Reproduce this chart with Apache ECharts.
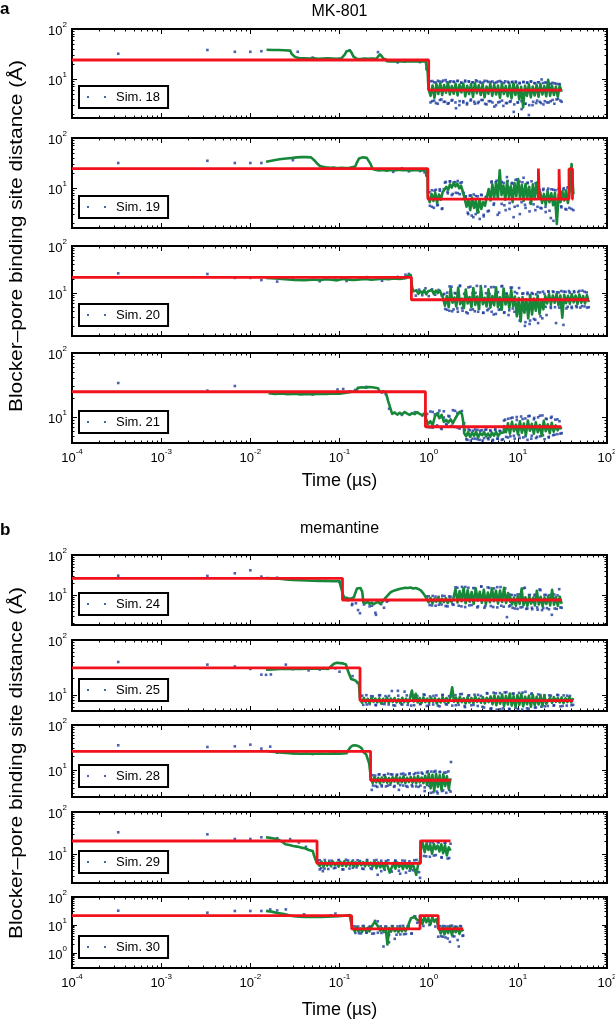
<!DOCTYPE html>
<html><head><meta charset="utf-8">
<script src="https://cdn.jsdelivr.net/npm/echarts@6/dist/echarts.min.js"></script>
<style>html,body{margin:0;padding:0;background:#fff}#c{width:615px;height:1020px}</style>
</head><body><div id="c"></div>
<script>
// ---------------- DATA (time in µs, distance in Å) ----------------
// red step fits: [time, value] with value held until next time
const sim18Step = [[1e-4,24],[1.0,6.0],[31,6.0]];
const sim19Step = [[1e-4,24.3],[0.98,6.0],[17.0,24.5],[17.4,6.0],[29.0,23.8],[29.6,6.0],[37.5,24],[41,6.0],[42,6.0]];
const sim20Step = [[1e-4,21.6],[0.64,7.2],[62.5,7.2]];
const sim21Step = [[1e-4,24.8],[0.92,7.05],[30.8,7.05]];
const sim24Step = [[1e-4,26.1],[0.108,7.5],[30.9,7.5]];
const sim25Step = [[1e-4,31],[0.17,7.9],[41.7,7.9]];
const sim28Step = [[1e-4,26],[0.223,5.9],[1.76,5.9]];
const sim29Step = [[1e-4,20.4],[0.056,6.0],[0.81,20.6],[1.76,20.6]];
const sim30Step = [[1e-4,21.5],[0.137,7.2],[0.80,21.5],[1.28,7.2],[2.44,7.2]];

// raw samples (blue dots): isolated [time, value] points
const sim18Dots = [[3.3e-4,32],[3.3e-3,38],[6.7e-3,35],[1e-2,35],[1.33e-2,36],[0.034,35],[0.05,26.8],[0.13,37.5],[0.27,34.5],[0.45,21.5],[0.6,23.5],[0.8,21.8],[0.95,16]];
const sim19Dots = [[3.3e-4,31.6],[3.3e-3,35],[6.7e-3,31.6],[1e-2,31.6],[1.33e-2,31.6],[0.03,36],[0.4,21],[0.5,24.8],[0.6,21.5],[0.7,23.8],[0.8,21.8],[0.9,20.5],[0.95,17.5]];
const sim20Dots = [[3.3e-4,26.2],[3.3e-3,25.4],[6.7e-3,21],[1e-2,21],[1.33e-2,18.9],[0.02,17.5],[0.03,21.5],[0.06,17.8],[0.09,21.2],[0.12,18],[0.2,21.8],[0.3,18.2],[0.45,22],[0.55,24.5],[0.6,25.5]];
const sim21Dots = [[3.3e-4,34],[3.3e-3,25.8],[6.7e-3,30.5],[0.02,23.6],[0.05,22.5],[0.08,24.2],[0.095,26.9],[0.11,27.4],[0.13,25.2],[0.15,26.5],[0.2,29.6],[0.3,24.2],[0.33,22.8],[0.36,13.5],[0.5,10.8],[0.7,11.9],[0.85,10.6]];
const sim24Dots = [[3.3e-4,30.4],[3.3e-3,30],[6.7e-3,34.9],[1e-2,41.5],[1.33e-2,28.8],[0.02,27],[0.04,24.2],[0.07,22.6],[0.1,21.3]];
const sim25Dots = [[3.3e-4,39.8],[3.3e-3,35.6],[6.7e-3,33],[1e-2,29.7],[1.33e-2,23.4],[0.015,23.2],[0.017,23.6],[0.025,35.6],[0.03,29.5],[0.045,28],[0.06,29],[0.09,30.5],[0.1,26.5],[0.14,22],[0.16,16.5]];
const sim28Dots = [[3.3e-4,35.4],[3.3e-3,32.4],[6.7e-3,33.5],[1e-2,36.5],[1.33e-2,29.8],[1.67e-2,33],[0.02,24.2],[0.03,23.5],[0.05,22.6],[0.23,3.6],[1.78,15]];
const sim29Dots = [[3.3e-4,32.9],[3.3e-3,29.4],[6.7e-3,22.8],[1e-2,22.8],[1.33e-2,25],[0.02,23.8],[0.028,22.6],[0.035,18.8],[0.042,14.8],[0.06,4.3],[0.065,3.9]];
const sim30Dots = [[3.3e-4,32.4],[3.3e-3,27.5],[6.7e-3,31.6],[1e-2,31.6],[1.33e-2,31.6],[1.67e-2,36],[0.02,33],[0.025,36],[0.04,24],[0.08,22],[0.09,25.5]];

// dense raw samples (blue dots): [tStart, tEnd, values read left to right]
const sim18Blue = [[1.0,31,[8.8,3.4,9.1,3.7,8.5,3.2,8.9,3.9,9.3,3.5,8.6,3.3,9.0,3.8,8.7,2.6,9.2,3.6,8.4,3.4,8.9,3.1,9.0,3.7,8.6,3.5,9.4,3.3,8.8,3.8,8.5,3.2,9.1,3.6,8.7,3.4,8.3,3.0,8.9,3.5,8.6,2.9,9.0,3.3,8.4,3.6,8.8,3.1,8.5,3.4,8.2,2.5,8.7,3.2,8.4,1.9,8.9,3.0,8.3,3.3,8.6,3.5,9.8,3.1,8.5,3.4,8.1,3.6,8.4,3.2,8.0,4.0,7.9,3.5]],
  [1.04,30,[9.0,3.6,8.6,3.3,9.2,3.8,8.8,3.5,9.5,3.2,8.7,3.7,8.9,3.4,9.1,3.0,8.5,3.6,9.3,3.3,8.8,3.9,8.6,3.2,9.0,3.5,8.4,3.8,9.2,3.1,8.7,3.6,8.9,2.8,8.5,3.4,9.1,3.7,8.3,3.3,8.8,3.5,8.6,2.2,8.9,3.4,8.4,3.6,8.7,3.2,8.5,3.0,8.9,3.5,8.2,3.7,8.6,3.3,8.3,3.6,8.5,3.4,8.0,3.8,8.2,3.9,7.9,3.7]]];
const sim19Blue = [[0.98,42,[8.5,4.4,9.0,4.0,9.2,4.6,8.8,3.8,9.5,13.2,7.8,13.5,7.2,12.9,8.0,13.8,7.5,13.0,7.8,6.8,3.2,7.0,2.8,7.4,3.0,6.8,2.4,7.2,2.7,6.5,3.4,7.6,13.5,4.6,13.0,2.9,14.2,4.8,12.6,3.6,13.8,5.0,12.2,2.6,14.5,4.4,13.4,5.2,16,4.0,12.8,3.4,13.6,4.7,12.4,4.2,9.2,3.9,9.6,4.2,8.9,3.5,9.4,2.2,9.0,3.7,9.8,4.1,9.3,3.8,10.2,4.0,9.6,3.6]],
  [1.02,40,[8.2,4.2,8.8,4.5,9.4,3.9,12.8,8.4,13.6,7.6,13.1,7.9,12.5,8.2,6.6,3.0,7.1,2.6,6.9,3.3,7.3,2.9,6.7,3.5,12.9,4.9,14.0,3.2,13.2,4.5,16.5,3.8,12.6,4.2,14.8,3.0,13.0,4.6,12.4,5.0,9.0,3.6,9.4,4.0,9.1,3.3,9.7,2.5,9.2,3.9,9.5,4.3,9.9,3.7,10.0,3.8]]];
const sim20Blue = [[0.66,1.4,[12.2,8.8,11.8,9.0,12.6,8.6,12.0,9.2,11.6,8.9]],
  [1.45,62.5,[9.2,4.6,10.2,4.2,13.6,4.5,9.8,4.0,14.0,4.8,9.6,3.9,13.2,4.4,9.9,4.1,14.2,4.6,10.0,3.8,13.8,4.3,9.5,4.0,13.4,3.6,10.4,4.5,14.1,3.9,9.7,3.4,13.0,4.7,10.5,3.7,12.8,4.2,9.8,2.4,9.5,2.2,10.0,2.8,9.4,2.3,10.3,2.9,9.6,3.4,10.6,5.2,10.8,5.0,10.4,4.9,11.0,2.1,10.6,5.1,10.2,4.8,10.9,5.3,10.5,4.9,11.2,5.2,10.3,5.0]],
  [1.5,60,[9.6,4.4,13.8,4.1,10.0,4.7,14.4,4.2,9.7,3.7,13.6,4.5,10.1,4.0,14.0,3.8,9.9,4.6,13.3,3.5,10.2,4.4,13.9,3.8,9.6,4.3,13.1,4.0,9.9,2.6,9.7,2.0,10.2,2.6,9.6,2.7,10.4,3.2,10.7,5.1,10.9,4.8,10.5,2.3,10.3,5.0,10.7,4.7,11.0,5.1,10.4,5.0,11.1,5.3,10.6,4.9]]];
const sim21Blue = [[0.93,2.5,[10.5,7.0,12.2,6.8,11.0,7.4,12.6,6.5,9.8,7.8,10.4,7.2,12.8,7.0,11.6,6.6,12.4,8.0]],
  [2.5,7.0,[6.2,4.5,6.4,4.3,6.1,4.6,6.3,4.4,6.2,4.7,6.4,4.5,6.0,4.3,6.3,4.6,6.1,4.4,6.3]],
  [7.0,31,[8.8,4.9,9.4,5.0,9.8,4.6,9.0,5.2,10.2,4.8,9.5,4.4,10.4,5.1,9.2,4.7,9.9,5.0,10.6,4.5,9.3,4.9,9.7,5.2,9.1,5.4,8.6,5.6]],
  [0.96,2.45,[11.2,6.9,12.0,7.1,11.5,6.7,12.3,7.5,10.2,7.3,12.5,6.8,11.9,7.6]],
  [2.55,6.8,[6.3,4.4,6.2,4.6,6.4,4.5,6.1,4.3,6.3,4.7,6.2,4.4,6.4,4.6,6.0,4.5]],
  [7.2,30,[9.1,4.8,9.6,5.1,10.0,4.7,9.3,5.0,10.3,4.6,9.7,4.9,10.5,5.2,9.4,4.8,10.1,5.3,9.2,5.5]]];
const sim24Blue = [[0.112,0.35,[9.0,7.4,5.6,6.2,3.5,5.8,6.9,5.4,3.2,6.4,4.8,7.2]],
  [0.95,1.9,[9.2,5.6,9.5,5.4,9.0,5.8,9.4,5.2,9.1,5.7]],
  [2.0,8.2,[15.6,5.4,16,5.0,15.2,5.6,14.8,5.2,16.2,4.8,15.5,5.3,14.6,4.9,15.8,5.1,2.8,5.5]],
  [8.2,31,[10.2,4.8,9.8,4.5,10.4,5.0,15.2,4.6,10.0,4.4,9.6,4.9,13.8,4.2,10.1,4.7,9.9,3.2,10.3,4.5,14,4.8]],
  [0.12,0.34,[8.4,6.0,4.2,6.6,5.2,3.6,5.9,6.8]],[1.0,1.85,[9.3,5.5,9.1,5.7,9.6,5.3,9.2,5.9]],
  [2.1,8.0,[15.2,5.2,15.9,5.5,14.9,4.9,16.4,5.3,15.1,5.0,15.7,5.4,14.7,5.2]],
  [8.6,30,[10.0,4.6,10.3,4.9,14.6,4.5,9.9,4.8,10.2,4.3,13.2,4.7,10.0,4.4,10.4,4.6,9.8,4.9]]];
const sim25Blue = [[0.17,41.7,[9.6,6.6,9.9,6.8,9.4,6.5,9.8,6.9,9.5,6.7,11.8,6.4,9.7,6.8,11.5,6.6,9.9,6.5,9.6,6.9,10.2,6.3,9.4,6.7,9.8,6.2,10.0,6.8,9.5,6.4,9.9,6.6,10.4,6.0,9.7,6.5,10.1,6.3,9.6,5.9,10.6,5.6,11.0,5.4,10.8,5.7,11.2,5.5,10.5,5.8,10.9,5.4,11.4,5.6,10.6,5.9,10.2,6.1,9.9,6.3,9.7,6.5,10.0,6.2,9.8,6.4,9.6,6.6]],
  [0.18,40,[9.7,6.7,9.5,6.6,9.9,6.8,9.6,6.5,11.9,6.7,9.8,6.4,9.7,6.8,10.0,6.6,9.6,6.4,9.9,6.7,9.5,6.5,10.3,6.3,9.8,6.6,10.0,6.1,10.8,5.7,10.7,5.5,11.1,5.6,10.6,5.5,11.0,5.7,10.4,5.9,10.0,6.2,9.8,6.4,9.9,6.3,9.7,6.5]]];
const sim28Blue = [[0.225,1.76,[7.8,4.5,7.5,4.2,8.0,4.6,7.6,4.3,8.2,4.7,7.9,4.4,7.7,3.6,8.1,4.5,7.8,4.2,8.4,4.6,8.0,4.3,8.6,4.5,8.2,4.1,8.8,4.4,9.2,3.2,9.5,3.0,9.0,3.4,8.7,3.1,9.3,3.3]],
  [0.235,1.7,[7.6,4.4,7.9,4.3,7.7,4.5,8.0,4.2,7.8,4.6,8.3,4.4,8.1,4.3,8.5,4.2,8.7,3.4,9.3,3.1,9.1,3.3,9.0,3.5,8.8,3.6]]];
const sim29Blue = [[0.057,0.8,[7.0,4.6,7.2,4.4,6.9,4.7,7.1,4.3,7.3,4.5,7.0,4.8,6.8,4.4,7.2,4.6,7.0,3.2,6.9,4.2,7.1,3.8,6.8,4.0,7.0,3.6,6.7,4.1,7.2,2.7]],
  [0.82,1.76,[18.6,9.0,19.2,8.6,18.8,9.4,19.0,8.2,18.5,7.8,17.6]],
  [0.06,0.78,[7.1,4.5,6.9,4.6,7.2,4.3,7.0,4.7,7.1,4.5,6.9,4.4,7.2,3.9,6.8,4.1,7.0,3.4,6.9,4.0,7.1,3.7]],
  [0.85,1.7,[19.0,8.8,18.7,9.2,19.1,8.4,18.4,8.0]]];
const sim30Blue = [[0.14,0.8,[9.0,5.2,8.8,5.0,9.2,5.4,8.6,4.9,14,5.3,9.0,1.7,8.7,4.4,9.1,3.2,8.9,4.6,9.3,4.8,8.8,5.0,20.5,12,21]],
  [0.81,1.28,[20.5,9.2,21,10,20.2,8.8,3.8]],
  [1.3,2.44,[9.0,4.0,9.2,3.6,8.8,2.5,9.4,3.9,8.6,1.7,9.0,4.2]],
  [0.15,0.78,[8.9,5.1,9.1,5.3,8.7,5.0,13.5,5.2,8.8,2.4,9.0,4.5,9.2,4.7,8.9,4.9,19.8,13]],
  [1.35,2.4,[9.1,3.8,8.9,3.3,9.3,4.0,8.7,2.9,9.1,4.1]]];

// running average (green): [tStart, tEnd, values read left to right]
const sim18Green = [[0.0152,0.028,[38.5,38,38,37.5,37]],[0.029,0.034,[32,28,26.5]],
  [0.036,0.105,[26,25.8,25.6,25.8,25.5,25.7,25.9,25.6,25.4,25.8]],[0.11,0.15,[27,31,36,38,37,33,28,26]],
  [0.155,0.26,[25.5,25.2,25.8,25.4,25.6,25.3]],[0.27,0.3,[28,31,28]],[0.31,0.33,[25.5,24.8]],
  [0.34,0.93,[22.6,22.4,22.8,22.3,22.5,22.7,22.2,22.6,22.4,22.8,22.5,22.3,22.6,22.4]],[0.94,0.985,[19,15,17,9]],
  [1.0,31,[6.2,4.6,7.4,4.2,7.9,5.0,8.2,4.8,7.6,5.3,8.4,4.9,7.2,5.1,8.0,4.7,7.7,5.4,8.1,4.5,7.3,5.0,7.9,4.4,8.3,5.2,7.5,4.8,7.8,4.3,7.1,5.1,8.0,4.6,7.6,4.9,7.4,4.2,7.9,5.0,7.2,4.5,7.7,4.1,8.2,4.8,7.5,3.9,7.0,2.7,7.3,4.6,7.8,4.3,7.1,4.7,7.6,4.4,7.9,4.9,7.2,4.5,9.6,4.6,7.4,4.8,7.0,4.4,7.3,5.6]]];
const sim19Green = [[0.015,0.03,[33.6,35.5,37.5,39,40]],[0.033,0.048,[41,41.5,41.5,41]],[0.052,0.065,[36,31,27.5,26.5]],
  [0.07,0.13,[25.8,25.2,25.5,24.9,25.3,25.0,25.4]],[0.15,0.235,[27,33,39,41,41,40.5,40,38,30,24]],
  [0.25,0.93,[23.2,22.5,23,22.2,22.8,22.4,23.1,22.6,22.9,22.3,22.7,23,22.5,22.8]],[0.94,0.97,[18,20]],
  [0.98,42,[6.8,5.2,7.6,5.5,8.0,5.0,7.4,5.8,8.2,8.8,10.5,9.2,11.8,10.2,12.6,10.8,12.2,9.8,11.0,8.4,6.0,4.2,5.8,3.6,6.4,4.0,5.5,3.2,6.0,3.8,5.2,4.4,6.6,9.5,5.6,11.8,6.4,12.4,6.0,22.5,7.2,11.2,5.8,13.5,6.6,10.8,5.2,12.6,6.8,15.0,6.2,11.5,5.5,12.0,6.4,10.6,4.8,11.8,6.0,12.8,6.6,8.2,5.0,7.6,4.6,8.4,5.2,7.8,4.5,8.0,1.9,7.4,5.2,8.6,5.6,9.0,5.0,8.8,30,7.5]]];
const sim20Green = [[0.015,0.04,[21,20.3,19.6,19.0,18.8]],
  [0.045,0.55,[19.0,19.4,18.8,19.6,19.2,18.6,19.8,19.3,18.9,19.5,19.9,19.2,19.7,20.2,19.6,20.4,20.0,20.6]],
  [0.57,0.63,[21.5,23.5,22.8,24]],[0.66,1.4,[10.8,10.2,11.4,9.6,11.0,9.8,11.5,9.4,10.9,9.9,11.6,9.5,11.2,10.0,11.3,9.2]],
  [1.45,62.5,[7.8,5.4,8.6,5.0,12.5,6.2,8.0,5.2,13.0,5.8,7.6,4.8,11.8,6.0,8.2,5.0,12.8,5.6,8.4,4.6,13.4,5.8,7.9,5.2,12.0,4.9,8.6,5.5,13.2,5.0,8.1,4.4,12.4,5.7,9.0,4.8,11.6,5.3,8.4,3.2,7.8,2.5,8.2,3.8,7.4,2.9,9.2,3.5,7.6,4.2,8.8,3.6,7.2,4.5,8.6,6.0,9.4,5.8,8.8,6.2,9.6,5.5,8.9,3.0,9.2,6.1,8.7,5.9,9.5,6.3,8.8,5.8,9.3,6.2,8.6,6.0,9.0,6.4]]];
const sim21Green = [[0.016,0.1,[23.5,23.0,23.3,22.8,23.1,22.6,23.0,22.7,23.2,22.9,23.4,23.1]],[0.11,0.155,[23.6,24.2,24.8,25.5]],
  [0.16,0.27,[28.5,29.2,28.8,29.4,29.0,28.2]],[0.28,0.33,[25.5,24.6,25.2,24.3]],[0.35,0.38,[18,12.5]],
  [0.39,0.9,[11.2,11.8,10.9,11.6,11.0,12.0,11.3,10.8,11.5,11.1,11.9,11.2,10.7,11.4]],
  [0.93,2.5,[9.5,7.8,8.6,7.4,10.2,11.4,9.6,10.8,8.4,9.0,8.2,9.2,8.0,9.4,10.8,12.0,11.2,7.0]],
  [2.5,7.0,[5.6,5.0,5.8,4.9,5.7,5.1,5.9,4.8,5.6,5.2,5.8,5.0,5.5,4.9,5.7,5.1,5.9,5.0,5.6,5.3,5.8]],
  [7.0,31,[7.2,5.8,8.0,5.5,8.4,6.0,7.6,5.4,8.6,5.7,7.9,5.2,8.8,6.1,7.8,5.5,8.3,5.8,7.5,5.1,8.7,6.0,7.7,5.6,8.1,5.9,7.4,6.2,7.0,6.5]]];
const sim24Green = [[0.015,0.1,[26.5,26,25.5,24.5,23.8,23.3,23,22.8,22.6,22.3,22.1,22.0]],[0.102,0.11,[18,10]],
  [0.112,0.145,[8.6,8.3,8.0,8.8]],[0.15,0.18,[11,14.5,15.5,15,12]],[0.185,0.3,[6.6,6.2,6.8,6.0,6.5,5.9,6.4,6.7,6.1,6.6]],
  [0.31,0.35,[7.2,8.6,10.0]],[0.37,0.93,[11.5,12.5,13.2,13.8,14.4,14.8,15.2,15.0,15.4,14.6,15.0,14.2,13.0,11.0,8.8]],
  [0.95,1.9,[8.2,6.5,8.4,6.2,8.0,6.8,8.6,6.4,8.1,6.6,8.3,6.3,7.9,6.7,8.5]],
  [2.0,8.2,[14.0,6.5,12.5,7.0,15.0,6.2,13.2,6.8,11.8,6.0,14.5,7.2,12.0,6.4,13.6,5.9,11.5,6.6,14.8,7.0,12.8,6.1,13.0,6.7,15.2,6.3,11.2,6.8]],
  [8.2,31,[9.0,5.8,8.6,5.4,9.4,6.0,14.5,5.6,8.8,5.3,9.2,6.1,8.5,5.5,12.8,5.8,9.0,5.2,8.7,6.0,9.3,5.5,13.5,5.7,8.9,5.4,9.1,6.0]]];
const sim25Green = [[0.015,0.075,[28.8,29.2,29.6,29.8,30.0,29.7,30.1,29.9,30.2,29.8]],[0.08,0.118,[33,37,38.5,38,37.5,36]],
  [0.122,0.165,[30,24,19.5,19,18.5,17.7,16]],
  [0.17,41.7,[8.4,7.2,8.8,7.4,8.5,7.1,8.9,7.5,8.6,7.3,8.7,7.0,8.5,7.4,9.0,7.2,8.6,7.5,8.8,7.3,8.4,7.1,8.9,7.4,8.6,7.2,8.7,12.0,7.6,10.5,7.3,8.8,7.1,9.0,7.4,8.6,7.2,8.9,7.5,8.7,7.0,8.5,7.3,9.1,7.4,8.8,7.2,9.0,13.8,7.5,8.9,7.2,9.2,7.4,8.7,7.0,9.0,7.3,8.8,7.1,9.3,7.5,8.6,7.2,9.1,7.0,8.9,7.4,9.4,6.8,9.8,6.5,9.4,6.9,10.2,6.3,9.6,6.7,10.6,6.4,9.5,6.0,9.9,6.6,10.4,6.2,9.3,6.8,9.7,6.1,10.0,6.5,9.2,6.7,9.6,6.3,9.8,6.9,7.4,8.9,7.2,9.1,7.5,8.8,7.3,9.0,7.1,8.7,7.4,9.2,7.3,8.8]]];
const sim28Green = [[0.015,0.12,[26.5,25.5,24.6,23.8,23.4,23.0,23.2,22.9,23.3,23.0,23.4,23.1,23.5]],[0.125,0.178,[27,32,35,35.3,34.5,33,30]],
  [0.185,0.215,[25,22,14]],
  [0.225,1.76,[6.6,5.1,6.9,5.3,6.7,5.0,6.8,5.4,7.0,5.2,6.6,5.1,6.9,5.5,7.1,5.0,6.8,5.3,7.2,5.1,6.7,5.4,7.0,5.2,6.9,5.0,7.3,5.3,6.8,5.1,7.4,4.6,8.2,3.9,7.8,3.4,8.3,4.2,7.6,3.6,8.0,4.4,7.2,3.8,6.5]]];
const sim29Green = [[0.015,0.05,[25,24.2,23.4,22.4,20,17,16.4,15.5,15,14.2,13.7,12.5,11.8]],[0.052,0.055,[9,6.5]],
  [0.057,0.8,[6.4,5.2,6.6,5.0,6.5,5.3,6.3,5.1,6.6,5.4,6.2,5.0,6.5,5.2,6.7,5.1,6.4,5.3,6.6,5.0,6.3,5.2,6.5,5.4,6.4,5.1,6.6,5.3,6.2,5.0,6.5,4.6,6.3,4.8,6.1,4.5,6.4,4.9,3.6,4.7,6.2,4.5,6.3,4.9,6.0,4.4,6.2,4.6,5.9,4.3,6.1,4.5,3.2,5.6,6.8]],
  [0.82,1.76,[14,17.5,11.0,17.9,12.5,16.5,10.2,17.2,13.0,15.8,11.5,17.0,10.5,16.2,9.2,14.5,12.0]]];
const sim30Green = [[0.015,0.13,[32,30,27,25,22.5,20.5,19.8,19.5,19.3,19.6,19.4,19.8,20.2,20.8,21.5,22.5]],[0.135,0.14,[12,8]],
  [0.142,0.8,[7.8,5.8,8.2,6.0,7.6,5.7,8.3,6.1,7.9,5.9,8.0,10.5,13.1,12.0,8.5,6.2,7.8,5.6,8.1,2.0,7.7,5.8,8.4,6.0,7.6,5.5,8.2,5.9,7.9,6.1,8.0,12,17.5,15,19.3,16,18.5,14]],
  [0.81,1.28,[18.5,11,19,12.5,17.5,10.2,18.8,13,16,9]],
  [1.3,2.44,[7.8,5.0,8.2,4.6,7.6,5.2,8.4,4.4,7.9,5.5,8.0,4.8,7.4,6.0]]];

const simNames = ['Sim. 18','Sim. 19','Sim. 20','Sim. 21','Sim. 24','Sim. 25','Sim. 28','Sim. 29','Sim. 30'];
const yMins = [1.66,1.58,1.22,3.93,1.78,5.1,2.5,2.04,0.29];
const xRange = [1e-4, 100];
const xTickExps = [-4,-3,-2,-1,0,1,2];

const stepSets = [sim18Step,sim19Step,sim20Step,sim21Step,sim24Step,sim25Step,sim28Step,sim29Step,sim30Step];
const dotSets = [sim18Dots,sim19Dots,sim20Dots,sim21Dots,sim24Dots,sim25Dots,sim28Dots,sim29Dots,sim30Dots];
const blueSets = [sim18Blue,sim19Blue,sim20Blue,sim21Blue,sim24Blue,sim25Blue,sim28Blue,sim29Blue,sim30Blue];
const greenSets = [sim18Green,sim19Green,sim20Green,sim21Green,sim24Green,sim25Green,sim28Green,sim29Green,sim30Green];

// ---------------- LAYOUT ----------------
const frames = [[29,118],[138,228],[246,336],[353,443],[555,625],[640,711],[725,797],[812,883],[897,968]];
const bottomPanels = [3,8];
const FF = '"Liberation Sans", Arial, sans-serif';
const BLUE = '#1b3b9c', GREEN = '#17873a', RED = '#f2121c';

function expand(segs){
  const out=[];
  segs.forEach(([t0,t1,vals])=>{
    const n=vals.length;
    vals.forEach((v,i)=>{const f=n>1?i/(n-1):0; out.push([t0*Math.pow(t1/t0,f), v]);});
  });
  return out;
}
const lg = Math.log10;
const xMinor=[]; for(let n=-4;n<2;n++) for(let k=2;k<10;k++) xMinor.push(n+lg(k));
function yTicks(ymin){
  const lo=lg(ymin), maj=[], min=[];
  for(let n=Math.ceil(lo);n<=2;n++) maj.push(n);
  for(let n=Math.floor(lo);n<2;n++) for(let k=2;k<10;k++){const v=n+lg(k); if(v>lo+1e-6 && v<2) min.push(v);}
  return {maj,min};
}
const rich = {
  b:{fontSize:13,fontFamily:FF,color:'#000',padding:[4,0,0,0]},
  s:{fontSize:8,fontFamily:FF,color:'#000',verticalAlign:'top'}
};
const pow10 = v => '{b|10}{s|' + Math.round(v) + '}';

const grids=[], xAxes=[], yAxes=[], series=[], legends=[];
frames.forEach(([top,bot],g)=>{
  grids.push({left:72,right:8,top:top,height:bot-top,show:true,borderColor:'#000',borderWidth:2,
    containLabel:false,outerBoundsMode:'none',backgroundColor:'transparent'});
  const isBottom = bottomPanels.includes(g);
  const yt = yTicks(yMins[g]);
  const lo = lg(yMins[g]);
  const tickAx = (pos, vals, len, labels, extra) => Object.assign({
    gridIndex:g, type:'value', position:pos, axisLine:{show:false,onZero:false}, splitLine:{show:false},
    axisTick:{show:true,inside:true,length:len,customValues:vals,lineStyle:{color:'#000',width:1}},
    axisLabel: labels ? {show:true,customValues:vals,formatter:pow10,rich:rich,margin:5,color:'#000'} : {show:false},
    silent:true
  }, extra);
  // x axes
  xAxes.push({gridIndex:g,type:'log',logBase:10,min:xRange[0],max:xRange[1],show:false,axisLine:{onZero:false}});
  xAxes.push(tickAx('bottom',xTickExps,5,isBottom,Object.assign({min:-4,max:2},
     isBottom?{name:'Time (\u00b5s)',nameLocation:'middle',nameGap:g===3?29:33,
       nameTextStyle:{fontSize:18,fontFamily:FF,color:'#000'}}:{})));
  xAxes.push(tickAx('bottom',xMinor,2.5,false,{min:-4,max:2}));
  xAxes.push(tickAx('top',xTickExps,5,false,{min:-4,max:2}));
  xAxes.push(tickAx('top',xMinor,2.5,false,{min:-4,max:2}));
  // y axes
  yAxes.push({gridIndex:g,type:'log',logBase:10,min:yMins[g],max:100,show:false,axisLine:{onZero:false}});
  yAxes.push(tickAx('left',yt.maj,5,true,{min:lo,max:2}));
  yAxes.push(tickAx('left',yt.min,2.5,false,{min:lo,max:2}));
  yAxes.push(tickAx('right',yt.maj,5,false,{min:lo,max:2}));
  yAxes.push(tickAx('right',yt.min,2.5,false,{min:lo,max:2}));
  const xi=g*5, yi=g*5;
  series.push({type:'scatter',name:simNames[g],xAxisIndex:xi,yAxisIndex:yi,
    data: dotSets[g].concat(expand(blueSets[g])), symbol:'rect', symbolSize:2.6,
    itemStyle:{color:BLUE}, silent:true, z:2});
  series.push({type:'line',name:'avg'+g,xAxisIndex:xi,yAxisIndex:yi,data:expand(greenSets[g]),
    showSymbol:false,symbol:'none',lineStyle:{color:GREEN,width:2.6,join:'round'},silent:true,z:3});
  series.push({type:'line',name:'fit'+g,xAxisIndex:xi,yAxisIndex:yi,data:stepSets[g],step:'end',
    showSymbol:false,symbol:'none',lineStyle:{color:RED,width:2.8},silent:true,z:4});
  legends.push({show:true,left:79,top:bot-32,orient:'horizontal',selectedMode:false,
    data:[{name:simNames[g],icon:'path://M0,0h2v2h-2zM17,0h2v2h-2z'}],
    itemWidth:19,itemHeight:2,padding:[4,8,4,8],borderColor:'#000',borderWidth:2,borderRadius:0,
    backgroundColor:'#fff',textStyle:{fontSize:13,fontFamily:FF,color:'#000',padding:[0,0,0,5],lineHeight:14},z:10});
});

const texts = [
  {type:'text',x:0,y:9,style:{text:'a',font:'bold 17px '+FF,fill:'#000',textAlign:'left',textVerticalAlign:'middle'}},
  {type:'text',x:339.5,y:12,style:{text:'MK-801',font:'16px '+FF,fill:'#000',textAlign:'center',textVerticalAlign:'middle'}},
  {type:'text',x:0,y:530,style:{text:'b',font:'bold 17px '+FF,fill:'#000',textAlign:'left',textVerticalAlign:'middle'}},
  {type:'text',x:339.5,y:529,style:{text:'memantine',font:'16px '+FF,fill:'#000',textAlign:'center',textVerticalAlign:'middle'}},
  {type:'text',x:17,y:236,rotation:Math.PI/2,scaleX:1.1,style:{text:'Blocker\u2013pore binding site distance (\u00c5)',font:'19px '+FF,fill:'#000',textAlign:'center',textVerticalAlign:'middle'}},
  {type:'text',x:17,y:763,rotation:Math.PI/2,scaleX:1.1,style:{text:'Blocker\u2013pore binding site distance (\u00c5)',font:'19px '+FF,fill:'#000',textAlign:'center',textVerticalAlign:'middle'}}
];

const chart = echarts.init(document.getElementById('c'), null, {renderer:'canvas'});
chart.setOption({
  animation:false, backgroundColor:'#fff',
  grid:grids, xAxis:xAxes, yAxis:yAxes, series:series, legend:legends, graphic:texts, tooltip:{show:false}
});
</script></body></html>
